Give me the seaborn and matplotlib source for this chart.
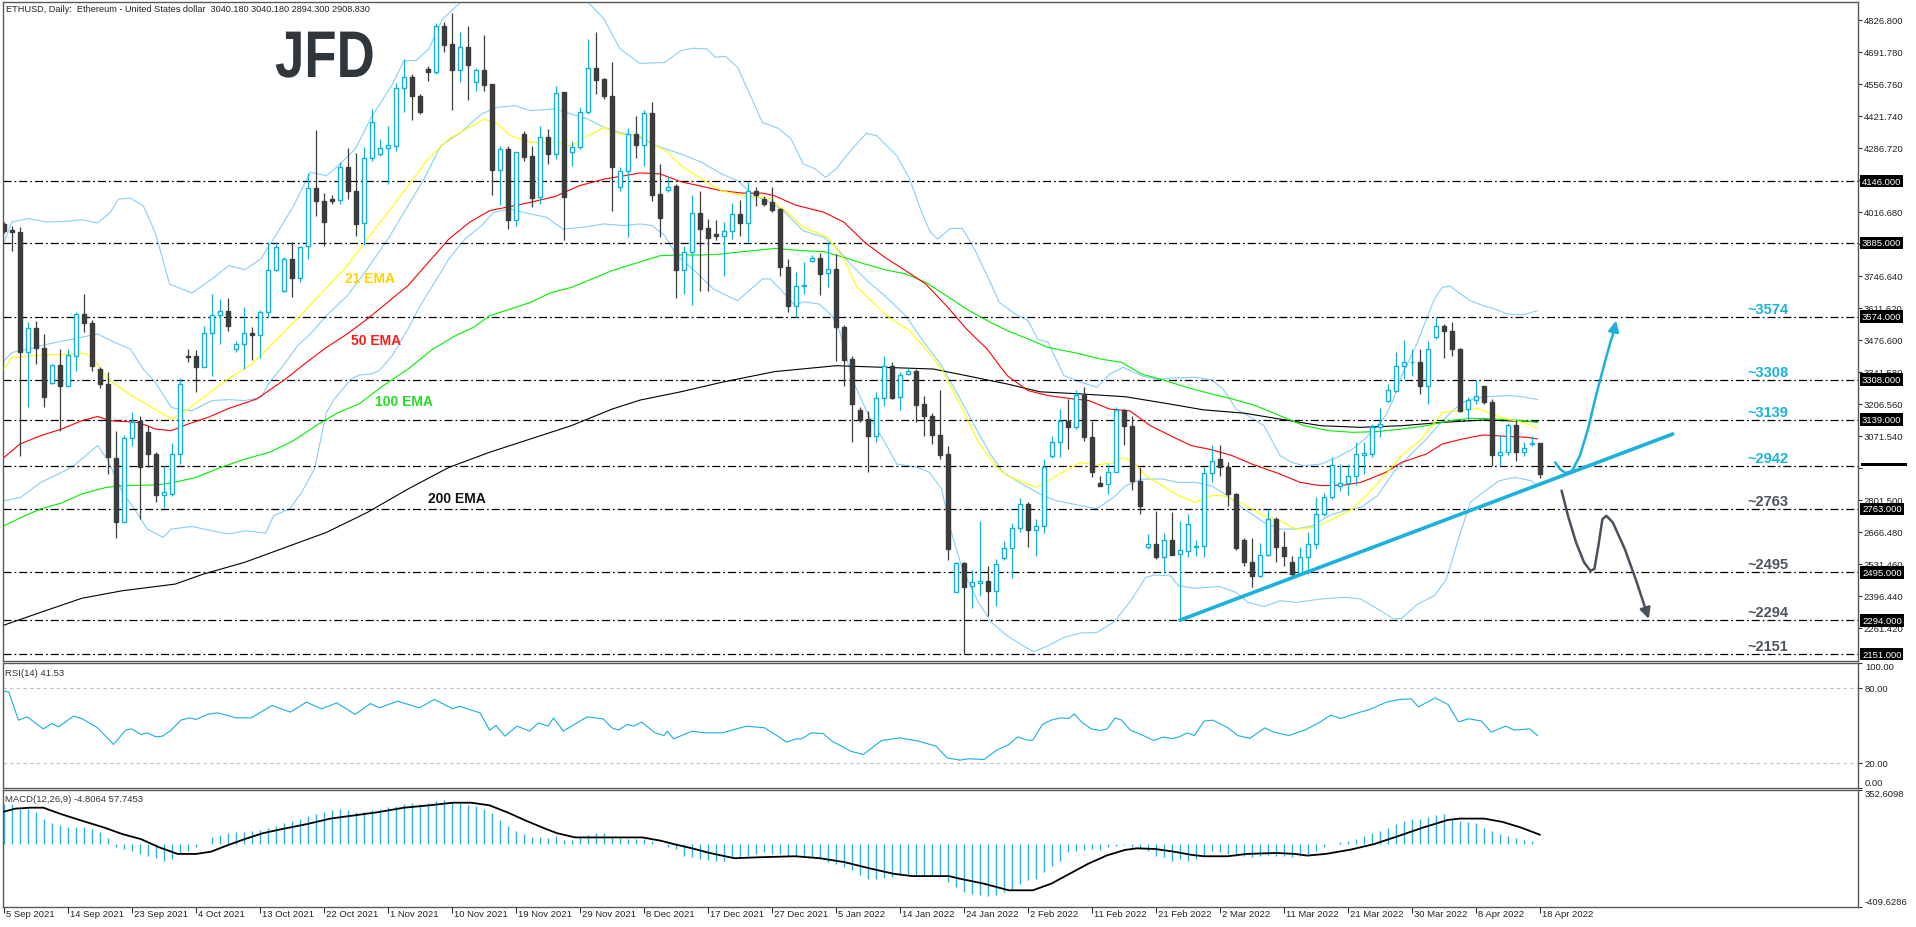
import numpy as np
import pandas as pd
import matplotlib
matplotlib.use("Agg")
import matplotlib.pyplot as plt
import matplotlib.transforms as mtrans
from matplotlib.textpath import TextPath
from matplotlib.patches import PathPatch, Rectangle
from matplotlib.font_manager import FontProperties
import seaborn as sns

# ---------------- data ----------------
open_ = [3965, 3939, 3932, 3426, 3525, 3440, 3294, 3370, 3280, 3409,
         3585, 3547, 3353, 3290, 2976, 2709, 3061, 3135, 3086, 2994,
         2823, 2826, 2994, 3410, 3410, 3363, 3503, 3581, 3596, 3437,
         3458, 3506, 3495, 3592, 3772, 3680, 3817, 3735, 3870, 4115,
         4060, 4070, 4067, 4206, 4105, 3967, 4242, 4260, 4284, 4295,
         4537, 4583, 4506, 4618, 4604, 4798, 4724, 4616, 4710, 4562,
         4616, 4555, 4194, 4281, 3983, 4344, 4253, 4077, 4330, 4260,
         4520, 4267, 4288, 4436, 4621, 4576, 4503, 4119, 4190, 4344,
         4299, 4431, 4091, 4108, 4123, 3772, 3848, 4010, 3946, 3922,
         3913, 3937, 4007, 3967, 4102, 4070, 4056, 4028, 3782, 3617,
         3702, 3809, 3820, 3756, 3775, 3529, 3395, 3180, 3142, 3072,
         3229, 3364, 3233, 3332, 3346, 3205, 3156, 3075, 2995, 2414,
         2533, 2436, 2450, 2457, 2418, 2555, 2597, 2681, 2784, 2675,
         2689, 2988, 3047, 3135, 3110, 3243, 3065, 2871, 2868, 2920,
         3180, 3114, 2882, 2601, 2615, 2559, 2632, 2573, 2587, 2601,
         2608, 2913, 2973, 2938, 2826, 2632, 2540, 2481, 2569, 2720,
         2601, 2538, 2491, 2562, 2615, 2742, 2812, 2861, 2871, 2903,
         2992, 2995, 3107, 3220, 3262, 3367, 3381, 3381, 3283, 3487,
         3536, 3515, 3437, 3184, 3224, 3280, 3215, 2990, 3004, 3117,
         3004, 3036, 3040.18]
high = [3975, 3958, 3950, 3553, 3557, 3500, 3376, 3437, 3437, 3592,
        3670, 3560, 3360, 3339, 3093, 3075, 3170, 3153, 3114, 3001,
        2945, 3041, 3314, 3437, 3435, 3535, 3670, 3648, 3653, 3473,
        3613, 3530, 3600, 3890, 3890, 3824, 3887, 3873, 4180, 4361,
        4095, 4088, 4227, 4284, 4264, 4288, 4450, 4323, 4377, 4559,
        4660, 4597, 4513, 4632, 4812, 4815, 4855, 4773, 4798, 4621,
        4762, 4555, 4295, 4295, 4267, 4358, 4295, 4379, 4365, 4545,
        4523, 4316, 4457, 4745, 4773, 4579, 4649, 4204, 4368, 4422,
        4445, 4478, 4218, 4161, 4133, 3873, 4087, 4102, 3986, 3983,
        3972, 4053, 4066, 4143, 4122, 4084, 4119, 4031, 3817, 3761,
        3803, 3834, 3842, 3887, 3838, 3540, 3409, 3191, 3177, 3255,
        3407, 3381, 3339, 3356, 3353, 3241, 3167, 3264, 3030, 2538,
        2538, 2507, 2711, 2521, 2552, 2629, 2704, 2808, 2794, 2720,
        2973, 3069, 3184, 3227, 3264, 3276, 3135, 2903, 2952, 3191,
        3184, 3156, 2938, 2657, 2756, 2661, 2751, 2713, 2741, 2633,
        2941, 3032, 3034, 2962, 2829, 2639, 2639, 2618, 2763, 2730,
        2671, 2566, 2601, 2664, 2812, 2830, 2983, 2952, 2952, 3044,
        3044, 3121, 3187, 3290, 3426, 3477, 3437, 3437, 3473, 3571,
        3543, 3550, 3440, 3234, 3307, 3283, 3227, 3075, 3124, 3138,
        3047, 3069, 3040.18]
low = [3925, 3852, 2988, 3191, 3374, 3191, 3290, 3093, 3280, 3346,
       3508, 3346, 3272, 2910, 2639, 2706, 3030, 2720, 2938, 2794,
       2765, 2819, 2952, 3381, 3257, 3360, 3325, 3459, 3515, 3423,
       3353, 3392, 3398, 3571, 3768, 3676, 3658, 3719, 3817, 3997,
       3873, 4049, 4049, 4070, 3915, 3876, 4232, 4253, 4133, 4274,
       4436, 4405, 4429, 4569, 4597, 4689, 4447, 4565, 4489, 4527,
       4527, 4087, 4045, 3944, 3958, 4232, 4035, 4049, 4218, 4239,
       3898, 4211, 4281, 4429, 4513, 4492, 4021, 4105, 3908, 4242,
       4211, 4063, 3911, 4101, 3651, 3669, 3624, 3683, 3683, 3899,
       3744, 3901, 3915, 3883, 4039, 4039, 4017, 3747, 3592, 3571,
       3669, 3803, 3665, 3698, 3388, 3280, 3044, 3131, 2917, 3044,
       3196, 3227, 3182, 3328, 3131, 3072, 3037, 2973, 2547, 2411,
       2151, 2344, 2394, 2310, 2352, 2549, 2470, 2664, 2601, 2566,
       2661, 2976, 2983, 3016, 3100, 3051, 2896, 2858, 2826, 2917,
       3033, 2843, 2742, 2594, 2552, 2491, 2569, 2294, 2562, 2566,
       2562, 2875, 2903, 2777, 2591, 2524, 2435, 2474, 2566, 2538,
       2524, 2474, 2484, 2488, 2594, 2734, 2805, 2840, 2823, 2864,
       2910, 2983, 3065, 3213, 3255, 3311, 3325, 3248, 3205, 3480,
       3398, 3409, 3170, 3142, 3205, 3205, 2942, 2942, 2990, 2966,
       2988, 3030, 2894.30]
close = [3937, 3929, 3426, 3525, 3440, 3236, 3370, 3280, 3412, 3585,
         3547, 3367, 3290, 2980, 2709, 3061, 3131, 2938, 2994, 2823,
         2833, 2994, 3290, 3405, 3363, 3505, 3581, 3599, 3536, 3458,
         3503, 3495, 3592, 3772, 3869, 3817, 3735, 3866, 4115, 4060,
         3972, 4060, 4206, 4105, 3965, 4242, 4396, 4284, 4298, 4537,
         4583, 4506, 4436, 4604, 4798, 4720, 4616, 4710, 4635, 4616,
         4551, 4194, 4281, 3983, 4267, 4246, 4073, 4330, 4260, 4516,
         4077, 4288, 4436, 4621, 4573, 4503, 4204, 4190, 4344, 4299,
         4431, 4087, 3990, 4122, 3772, 3848, 4010, 3943, 3904, 3913,
         3937, 4007, 3967, 4102, 4088, 4049, 4025, 3782, 3617, 3702,
         3709, 3820, 3754, 3775, 3529, 3392, 3205, 3138, 3072, 3229,
         3364, 3229, 3328, 3346, 3201, 3153, 3075, 2990, 2594, 2533,
         2435, 2453, 2457, 2418, 2531, 2597, 2681, 2784, 2675, 2689,
         2938, 3047, 3132, 3110, 3243, 3065, 2920, 2861, 2920, 3180,
         3114, 2882, 2774, 2615, 2559, 2632, 2569, 2590, 2699, 2608,
         2913, 2966, 2938, 2826, 2597, 2540, 2481, 2569, 2720, 2601,
         2566, 2488, 2562, 2615, 2742, 2812, 2948, 2871, 2903, 2995,
         2997, 3107, 3121, 3265, 3367, 3381, 3384, 3280, 3437, 3536,
         3515, 3437, 3177, 3224, 3241, 3215, 2990, 3004, 3117, 3004,
         3018, 3040, 2908.83]

ema21_x = [0, 1, 5, 8, 10, 11, 13, 16, 18, 21, 23, 28, 31, 35, 37.8, 42.9, 45.4, 48, 50.5, 53, 55.6, 60,
           61.7, 63.3, 65.8, 69.4, 70.9, 73, 75, 77, 79.5, 81.5, 83, 84.6, 87.2, 89.7, 92.3, 94.8, 95.8,
           97.9, 99.9, 103, 105, 106.5, 108.6, 110.6, 113.2, 115.2, 117.2, 119.8, 121.8, 123.9, 125.4,
           127.4, 129, 130.5, 133, 134.6, 136.6, 138.7, 139.9, 141.2, 142.7, 144.8, 146.8, 148.9, 150.9,
           152.4, 154.5, 157.5, 159.5, 161.5, 163.6, 165.6, 168.6, 172.2, 174.7, 177.2, 179.8, 181.8,
           184.3, 185.9, 187.9, 189.9, 191.7]
ema21_y = [3353, 3402, 3412, 3415, 3420, 3405, 3310, 3240, 3200, 3142, 3184, 3311, 3374, 3508, 3606, 3789,
           3901, 4014, 4126, 4239, 4323, 4407, 4386, 4337, 4309, 4309, 4295, 4337, 4372, 4344, 4337, 4295,
           4267, 4211, 4154, 4105, 4084, 4077, 4070, 4014, 3951, 3908, 3817, 3704, 3634, 3571, 3515, 3437,
           3353, 3184, 3044, 2945, 2903, 2875, 2854, 2882, 2931, 2959, 2948, 2959, 2980, 2959, 2903, 2861,
           2819, 2791, 2819, 2819, 2791, 2734, 2713, 2678, 2685, 2713, 2763, 2889, 2988, 3058, 3170, 3177,
           3187, 3163, 3142, 3128, 3103]

ema50_x = [0, 2, 4.6, 7.2, 9.7, 11.7, 13.3, 16.8, 18.9, 20.9, 23, 25.5, 28.1, 31.6, 35.2, 37.8, 40.3, 42.9,
           45.4, 50.5, 55.6, 58.2, 60.7, 63.8, 65.8, 68.9, 71.9, 75, 78, 79.5, 82, 84.6, 89.7, 92.3, 94.8,
           96.3, 98.9, 102.5, 105, 107.6, 110.1, 112.7, 115.2, 117.8, 120.3, 122.9, 125.4, 128, 130.5,
           133.6, 135.6, 138.2, 140.7, 143.3, 145.8, 148.4, 150.9, 153.5, 156, 159.5, 162, 164.6, 167.6,
           169.6, 172.7, 174.7, 177.8, 179.8, 182.3, 184.9, 187.9, 190.4, 191.7]
ema50_y = [2980, 3037, 3072, 3100, 3135, 3153, 3135, 3128, 3100, 3093, 3121, 3149, 3187, 3227, 3311, 3381,
           3444, 3501, 3564, 3705, 3901, 3972, 4021, 4042, 4056, 4081, 4126, 4154, 4171, 4180, 4176, 4143,
           4105, 4095, 4095, 4084, 4045, 4014, 3972, 3887, 3824, 3768, 3712, 3620, 3522, 3437, 3325, 3262,
           3241, 3227, 3220, 3184, 3177, 3114, 3072, 3030, 3013, 2988, 2952, 2910, 2875, 2861, 2864, 2875,
           2917, 2959, 2995, 3037, 3058, 3075, 3069, 3065, 3058]

ema100_x = [0, 2.6, 4.6, 7.2, 9.7, 12.8, 14.8, 18.9, 20.9, 24, 27.1, 30.1, 33.2, 36.2, 39.3, 41.8, 44.4,
            47.4, 50.5, 53.6, 56.5, 58.7, 60.7, 63.3, 65.8, 68.4, 70.9, 73.5, 76, 79.5, 82, 84.6, 87.2,
            89.7, 92.3, 94.8, 96.3, 99.9, 102.5, 105, 107.6, 110.1, 112.7, 115.2, 117.8, 120.3, 122.9,
            125.4, 128, 130.5, 134.1, 137.1, 139.7, 142.2, 144.8, 147.8, 150.9, 153.5, 156.5, 159.5,
            162.5, 165.6, 168.6, 171.7, 174.7, 177.8, 180.8, 183.3, 184.9, 187.9, 189.9, 191.7]
ema100_y = [2692, 2734, 2763, 2788, 2826, 2854, 2861, 2864, 2872, 2896, 2938, 2973, 3002, 3051, 3121, 3170,
            3206, 3283, 3353, 3437, 3495, 3529, 3578, 3606, 3634, 3676, 3697, 3733, 3768, 3805, 3831, 3834,
            3834, 3838, 3848, 3856, 3862, 3852, 3848, 3824, 3796, 3772, 3754, 3719, 3662, 3606, 3557, 3515,
            3480, 3444, 3420, 3395, 3381, 3332, 3308, 3276, 3248, 3227, 3198, 3156, 3114, 3093, 3086, 3089,
            3100, 3114, 3135, 3145, 3145, 3139, 3135, 3128]

ema200_x = [0, 4.6, 9.7, 14.8, 21.4, 25, 30.1, 35.2, 40.3, 45.4, 50.5, 55.6, 60.7, 65.8, 70.9, 76, 79.5,
            84.6, 89.7, 96.3, 104, 110.1, 116.2, 120.3, 125.4, 129.5, 134.6, 140.2, 145.8, 149.9, 155,
            159.5, 164.6, 169.6, 174.7, 179.8, 184.9, 191.7]
ema200_y = [2273, 2327, 2386, 2418, 2446, 2489, 2538, 2601, 2664, 2748, 2847, 2938, 3002, 3058, 3114, 3184,
            3222, 3257, 3297, 3342, 3367, 3360, 3353, 3325, 3290, 3257, 3248, 3236, 3205, 3181, 3167, 3142,
            3114, 3107, 3114, 3128, 3138, 3131]

bb_up_x = [0, 1, 3.1, 5.1, 7.2, 9.7, 11.7, 13.3, 14.3, 15.8, 17.4, 18.9, 20.7, 23.5, 26, 28.1, 30.1, 32.1,
           34.2, 36.2, 38.3, 40.3, 41.8, 43.9, 45.9, 48.5, 50, 51.5, 53.1, 54.8, 57.1, 60.7, 65.8, 73, 75,
           77, 79.5, 82.6, 84.6, 86.1, 87.9, 88.9, 90.2, 91.7, 93.3, 94.8, 96.8, 98.4, 99.9, 101.4, 102.7,
           104, 106, 107.8, 109.1, 111.6, 113.2, 114.7, 115.7, 116.7, 118.3, 119.8, 121.3, 122.9, 124.4,
           126.4, 128, 129.2, 130.5, 132.5, 134.6, 136.6, 138.2, 139.9, 142.2, 144.3, 145.8, 148.9, 150.9,
           152.4, 154, 155.5, 157.5, 159.5, 161, 162.5, 164.6, 166.6, 168.6, 170.1, 171.7, 172.7, 173.7,
           174.7, 175.7, 176.7, 177.8, 178.8, 179.8, 180.8, 181.8, 183.3, 184.9, 186.4, 187.9, 189.9, 191.7]
bb_up_y = [3887, 3974, 3988, 3974, 3974, 3983, 3969, 4014, 4070, 4073, 4042, 3929, 3711, 3674, 3733, 3789,
           3772, 3817, 3929, 4042, 4183, 4168, 4211, 4281, 4414, 4551, 4654, 4654, 4703, 4829, 4900, 4907,
           4900, 4900, 4829, 4703, 4642, 4646, 4696, 4706, 4703, 4668, 4672, 4625, 4506, 4393, 4368, 4323,
           4218, 4197, 4161, 4197, 4281, 4347, 4337, 4253, 4154, 4014, 3936, 3901, 3946, 3946, 3859, 3747,
           3634, 3585, 3557, 3480, 3466, 3325, 3297, 3276, 3332, 3360, 3325, 3308, 3315, 3318, 3308, 3269,
           3184, 3156, 3114, 2988, 2959, 2945, 2952, 2980, 3016, 3058, 3114, 3156, 3227, 3325, 3395, 3466,
           3564, 3648, 3698, 3702, 3676, 3641, 3620, 3606, 3585, 3582, 3599]

bb_mid_x = [0, 1, 3.1, 4.6, 6.6, 8.7, 11.7, 13.8, 15.8, 17.4, 18.9, 20.9, 21.9, 23.5, 26, 28.1, 30.1, 32.1,
            33.2, 35.2, 36.7, 38.3, 40.3, 42.9, 45.4, 48, 50.5, 52.5, 54.6, 57.1, 59.7, 61.7, 63.8, 65.8,
            68.9, 70.9, 73, 75, 77, 79.5, 81.5, 84.6, 87.2, 89.7, 91.7, 93.8, 95.8, 97.4, 99.9, 102.5, 104,
            106, 108.1, 110.1, 112.7, 114.7, 117.2, 119.3, 121.3, 123.4, 124.9, 126.9, 129.5, 131.5, 134.6,
            136.6, 138.7, 140.2, 142.2, 144.8, 146.8, 148.9, 150.9, 152.9, 155, 157.5, 159.5, 161.5, 163.6,
            165.6, 167.6, 169.6, 171.7, 173.7, 175.7, 177.8, 179.8, 181.3, 182.8, 184.9, 187.9, 189.9, 191.7]
bb_mid_y = [3388, 3423, 3437, 3452, 3466, 3480, 3501, 3466, 3437, 3353, 3297, 3191, 3184, 3177, 3220, 3224,
            3220, 3234, 3297, 3381, 3452, 3501, 3578, 3662, 3775, 3901, 4042, 4154, 4295, 4351, 4429, 4457,
            4464, 4443, 4450, 4429, 4407, 4372, 4351, 4330, 4295, 4260, 4225, 4176, 4147, 4084, 4056, 4021,
            3936, 3908, 3866, 3789, 3719, 3662, 3578, 3480, 3367, 3241, 3114, 2988, 2917, 2875, 2826, 2798,
            2777, 2763, 2812, 2861, 2889, 2889, 2875, 2875, 2861, 2819, 2763, 2706, 2678, 2678, 2692, 2734,
            2756, 2770, 2819, 2917, 2988, 3058, 3135, 3184, 3220, 3236, 3241, 3236, 3224]

bb_lo_x = [0, 2.1, 4.6, 7.2, 8.7, 11.7, 13, 14.8, 16.3, 17.9, 19.9, 20.9, 23.5, 26, 28.1, 30.1, 32.7, 33.7,
           35.7, 37.2, 38.8, 40.3, 41.3, 43.4, 44.4, 45.9, 46.9, 48.5, 50.5, 52, 54.1, 55.6, 57.6, 59.7,
           61.2, 63.3, 65.8, 67.8, 69.9, 72.4, 75, 77.5, 79.5, 81, 82.6, 84.1, 86.1, 88.7, 91.7, 94.8,
           95.8, 97.4, 98.9, 99.9, 101.9, 103.5, 104.5, 106, 108.1, 110.1, 111.6, 114.2, 115.7, 117.2,
           118.3, 119.8, 121.8, 123.4, 125.4, 127.4, 128.7, 130.5, 132.5, 134.6, 136.6, 138.7, 140.7,
           142.7, 143.8, 145.8, 146.8, 148.9, 151.9, 154, 155.5, 157.5, 159.5, 161.5, 164.6, 167.6, 169.6,
           171.7, 173.7, 174.7, 176.7, 178.8, 180.3, 181.8, 183.3, 184.9, 186.9, 188.9, 190.9, 191.7]
bb_lo_y = [2798, 2812, 2875, 2917, 2945, 3030, 2966, 2833, 2763, 2678, 2643, 2678, 2689, 2671, 2657, 2671,
           2661, 2734, 2763, 2833, 2931, 3170, 3227, 3311, 3328, 3332, 3346, 3409, 3522, 3620, 3733, 3817,
           3901, 3958, 4014, 4028, 4007, 3993, 3943, 3951, 3965, 3958, 3965, 3958, 3915, 3831, 3775, 3690,
           3641, 3733, 3733, 3676, 3620, 3637, 3627, 3578, 3508, 3311, 3156, 3044, 2952, 2938, 2917, 2847,
           2678, 2509, 2369, 2285, 2228, 2186, 2161, 2186, 2221, 2240, 2242, 2285, 2369, 2474, 2484, 2481,
           2439, 2428, 2436, 2411, 2369, 2351, 2376, 2369, 2383, 2390, 2383, 2341, 2299, 2301, 2362, 2397,
           2467, 2636, 2791, 2833, 2882, 2896, 2882, 2861]

levels = [4146, 3885, 3574, 3308, 3139, 2942, 2763, 2495, 2294, 2151]
cyan_levels = [3574, 3308, 3139, 2942]
gray_levels = [2763, 2495, 2294, 2151]
price_ticks = [4826.800, 4691.780, 4556.760, 4421.740, 4286.720, 4151.700, 4016.680, 3881.660,
               3746.640, 3611.620, 3476.600, 3341.580, 3206.560, 3071.540, 2936.520, 2801.500,
               2666.480, 2531.460, 2396.440, 2261.420]

trend_x = [147, 208.6]
trend_y = [2294, 3079]
up_arrow_x = [193.9, 194.5, 195.2, 196.0, 197.0, 198.0, 199.0, 200.1, 200.8, 201.2, 201.5]
up_arrow_y = [2959, 2931, 2914, 2924, 2988, 3100, 3241, 3381, 3466, 3508, 3557]
dn_arrow_x = [194.7, 195.5, 196.5, 197.5, 198.3, 198.8, 199.3, 199.8, 200.3, 201.1, 202.6, 204.1, 205.6]
dn_arrow_y = [2840, 2734, 2622, 2538, 2502, 2510, 2608, 2720, 2734, 2706, 2594, 2453, 2299]

rsi_x = [0, 0.6, 1.8, 2.9, 4.9, 6.0, 6.8, 8.7, 9.8, 11.7, 13.7, 15.2, 16.0, 17.1, 17.9, 19.0, 19.8, 20.9,
         22.1, 23.2, 24.0, 25.5, 26.7, 29.0, 30.9, 33.5, 35.8, 37.8, 39.7, 41.6, 43.9, 45.8, 46.9, 49.2,
         51.9, 53.8, 56.1, 56.9, 59.5, 60.7, 61.5, 62.6, 64.1, 65.7, 66.8, 68.0, 68.7, 69.9, 72.9, 74.9,
         76.0, 76.8, 77.9, 78.7, 79.7, 81.4, 82.5, 82.9, 83.7, 86.0, 87.5, 89.8, 92.8, 95.1, 96.7, 97.8,
         99.0, 99.7, 100.9, 102.4, 103.5, 105.8, 107.4, 109.7, 112.0, 114.3, 116.5, 117.9, 119.5, 120.6,
         122.5, 124.1, 125.6, 126.7, 127.9, 128.6, 129.8, 130.9, 132.1, 133.1, 133.8, 134.7, 135.9, 137.0,
         137.9, 138.9, 139.7, 140.8, 142.4, 143.7, 144.9, 146.0, 146.9, 147.9, 148.8, 150.0, 151.1, 153.0,
         154.2, 155.7, 157.6, 158.7, 160.6, 162.6, 164.5, 165.8, 167.1, 169.0, 170.9, 172.8, 174.4, 175.9,
         176.8, 178.9, 180.5, 181.8, 183.1, 184.7, 185.9, 187.7, 188.8, 190.7, 191.7]
rsi_y = [77.1, 76.3, 53.9, 56.5, 46.9, 51.2, 48.5, 57.1, 54.9, 47.7, 34.4, 45.9, 46.9, 42.4, 43.7, 40.5, 41.1,
         45.9, 53.9, 55.7, 54.4, 58.7, 59.7, 55.7, 55.7, 65.6, 60.3, 68.3, 62.9, 67.7, 58.4, 67.2, 63.7,
         69.1, 63.7, 70.4, 62.9, 65.1, 59.7, 45.9, 49.6, 41.1, 49.1, 45.1, 51.7, 49.1, 55.7, 45.1, 56.5,
         54.9, 47.7, 45.9, 50.4, 49.1, 52.3, 43.7, 41.6, 45.1, 38.9, 45.1, 43.7, 43.7, 49.1, 47.7, 41.1,
         36.3, 38.9, 38.9, 43.7, 43.2, 37.1, 29.1, 26.4, 37.6, 39.7, 37.1, 33.1, 23.7, 21.9, 23.0, 22.4,
         29.9, 34.4, 40.5, 37.9, 37.9, 50.4, 53.9, 55.7, 55.2, 58.9, 52.3, 46.9, 45.6, 46.9, 55.7, 53.9,
         45.9, 41.6, 37.6, 40.3, 39.2, 40.5, 43.7, 41.6, 53.1, 53.9, 47.7, 41.6, 39.2, 47.7, 44.3, 41.6,
         45.9, 52.3, 57.9, 55.2, 59.2, 62.9, 68.3, 70.4, 70.9, 64.5, 71.7, 66.4, 52.5, 55.0, 53.1, 44.3,
         49.1, 45.9, 46.9, 41.53]

macd_hist = [256, 256, 228, 228, 206, 163, 137, 120, 109, 109,
             109, 94, 73, 34, -24, -35, -46, -67, -78, -95,
             -110, -100, -61, -46, -24, 0, 40, 55, 68, 73,
             77, 84, 90, 105, 116, 137, 148, 163, 180, 191,
             206, 219, 223, 219, 206, 206, 219, 228, 239, 245,
             256, 262, 256, 262, 277, 282, 271, 262, 249, 245,
             223, 197, 155, 116, 84, 62, 45, 40, 38, 51,
             23, 23, 51, 55, 66, 68, 51, 34, 30, 30,
             30, 19, -3, -24, -35, -78, -89, -100, -106, -110,
             -110, -95, -89, -78, -67, -57, -67, -67, -78, -78,
             -89, -89, -100, -117, -132, -153, -175, -207, -229, -229,
             -225, -218, -207, -196, -207, -207, -207, -218, -250, -283,
             -315, -326, -332, -341, -336, -315, -294, -261, -240, -229,
             -186, -143, -110, -57, -46, -39, -35, -39, -24, -13,
             -9, -24, -35, -46, -78, -89, -110, -100, -110, -100,
             -78, -46, -57, -67, -78, -78, -89, -78, -74, -78,
             -78, -89, -78, -67, -46, -24, -3, 8, 19, 30,
             47, 68, 84, 105, 127, 148, 159, 159, 176, 185,
             191, 159, 148, 142, 133, 105, 84, 62, 51, 34,
             25, 19, -4.8064]
macd_sig_x = [0, 1.4, 3.3, 4.9, 7.2, 10.2, 12.5, 14.8, 17.1, 19.4, 21.7, 24.0, 25.9, 27.8, 30.1, 32.4,
              34.7, 37.8, 40.8, 43.9, 46.9, 50.0, 53.1, 56.1, 58.4, 60.7, 63.0, 65.3, 67.6, 69.1, 71.4,
              76.0, 79.8, 82.1, 83.7, 86.0, 88.2, 91.3, 94.4, 98.9, 102.0, 105.1, 108.1, 111.2, 113.5,
              118.1, 119.5, 122.5, 125.6, 128.6, 130.9, 133.2, 135.5, 137.8, 140.1, 141.6, 143.9, 146.2,
              148.5, 150.0, 153.0, 155.3, 159.1, 161.4, 162.9, 165.2, 168.3, 171.3, 174.4, 177.4, 180.5,
              182.0, 185.0, 187.3, 189.6, 192.0]
macd_sig_y = [208.4, 227.8, 234.2, 234.2, 191.2, 141.6, 105.0, 62.0, 29.7, -24.2, -67.2, -67.2, -52.2,
              -13.4, 29.7, 68.4, 94.3, 126.6, 163.1, 184.7, 206.2, 234.2, 249.3, 266.5, 266.5, 249.3,
              201.9, 148.1, 98.6, 68.4, 40.4, 40.4, 40.4, 18.9, -2.6, -30.6, -60.8, -95.2, -88.8, -82.3,
              -95.2, -121.1, -159.9, -196.4, -211.5, -211.5, -228.7, -261.0, -304.1, -304.1, -261.0,
              -196.4, -131.8, -78.0, -41.4, -30.6, -35.0, -52.2, -73.7, -82.3, -82.3, -67.2, -60.8, -67.2,
              -78.0, -67.2, -39.3, -2.6, 51.2, 105.0, 154.5, 163.1, 163.1, 141.6, 105.0, 57.7453]

date_labels = ["5 Sep 2021", "14 Sep 2021", "23 Sep 2021", "4 Oct 2021", "13 Oct 2021", "22 Oct 2021",
               "1 Nov 2021", "10 Nov 2021", "19 Nov 2021", "29 Nov 2021", "8 Dec 2021", "17 Dec 2021",
               "27 Dec 2021", "5 Jan 2022", "14 Jan 2022", "24 Jan 2022", "2 Feb 2022", "11 Feb 2022",
               "21 Feb 2022", "2 Mar 2022", "11 Mar 2022", "21 Mar 2022", "30 Mar 2022", "8 Apr 2022",
               "18 Apr 2022"]

# ---------------- styling ----------------
sns.set_theme(style="white")
plt.rcParams["font.family"] = ["Liberation Sans", "DejaVu Sans"]
SMALL = ["Liberation Sans", "DejaVu Sans"]
FS = 6.8
UP = "#14b0dc"
DN = "#3c3c3c"
BB = "#87cefa"
FRAME = "#5a5a5a"

W, H, DPI = 1916, 928, 100
fig = plt.figure(figsize=(W / DPI, H / DPI), dpi=DPI, facecolor="white")


def px_axes(x0, y0, x1, y1):
    return fig.add_axes([x0 / W, 1 - y1 / H, (x1 - x0) / W, (y1 - y0) / H])


ax = px_axes(2.5, 2.5, 1858, 661.5)
ax_rsi = px_axes(2.5, 663.5, 1858, 788.5)
ax_macd = px_axes(2.5, 790.5, 1858, 907.5)

XLIM = (-0.19, 231.75)
for a in (ax, ax_rsi, ax_macd):
    a.set_xlim(*XLIM)
    a.set_facecolor("white")
    for s in a.spines.values():
        s.set_color(FRAME)
        s.set_linewidth(1.0)
    a.tick_params(axis="x", bottom=False, labelbottom=False)
ax.set_ylim(2123.7, 4903.1)
ax_rsi.set_ylim(0, 100)
ax_macd.set_ylim(-409.6286, 352.6098)


def line(a, xs, ys, color, lw=0.8, z=3):
    sns.lineplot(x=xs, y=ys, ax=a, color=color, linewidth=lw, zorder=z,
                 errorbar=None, sort=False, legend=False)


# Bollinger bands and EMAs
for xs, ys in ((bb_up_x, bb_up_y), (bb_mid_x, bb_mid_y), (bb_lo_x, bb_lo_y)):
    line(ax, xs, ys, BB, lw=0.8, z=2)
line(ax, ema200_x, ema200_y, "#000000", z=3)
line(ax, ema100_x, ema100_y, "#00ee00", z=3)
line(ax, ema50_x, ema50_y, "#ff0000", z=3)
line(ax, ema21_x, ema21_y, "#ffff00", z=3)

# horizontal levels
for lvl in levels:
    ax.axhline(lvl, color="black", lw=0.9, ls=(0, (6.4, 2.4, 1.4, 2.4)), zorder=2.5)

# candles
df = pd.DataFrame({"bar": np.arange(len(open_)), "open": open_, "high": high,
                   "low": low, "close": close})
is_up = (df["close"] >= df["open"]).to_numpy()
edge = np.where(is_up, UP, DN)
fill = np.where(is_up, "white", DN)
ax.vlines(df["bar"], df["low"], df["high"], colors=edge, lw=0.9, zorder=4)
body_lo = np.minimum(df["open"], df["close"])
body_h = np.maximum(np.abs(df["close"] - df["open"]), 3.0)
ax.bar(df["bar"], body_h, bottom=body_lo, width=0.5, color=fill, edgecolor=edge,
       linewidth=1.0, zorder=5)

# trend line and projection arrows
line(ax, trend_x, trend_y, "#1ab2dd", lw=2.6, z=6)
line(ax, up_arrow_x[:-1], up_arrow_y[:-1], "#1ab2dd", lw=1.8, z=6)
ax.annotate("", xy=(up_arrow_x[-1], up_arrow_y[-1]), xytext=(up_arrow_x[-2], up_arrow_y[-2]),
            arrowprops=dict(arrowstyle="-|>", color="#1ab2dd", lw=1.8, mutation_scale=16,
                            shrinkA=0, shrinkB=0), zorder=6)
line(ax, dn_arrow_x[:-1], dn_arrow_y[:-1], "#47525c", lw=1.8, z=6)
ax.annotate("", xy=(dn_arrow_x[-1], dn_arrow_y[-1]), xytext=(dn_arrow_x[-2], dn_arrow_y[-2]),
            arrowprops=dict(arrowstyle="-|>", color="#47525c", lw=1.8, mutation_scale=16,
                            shrinkA=0, shrinkB=0), zorder=6)

# EMA labels
lab_kw = dict(fontsize=10, fontweight="bold", ha="center", va="center", zorder=7,
              family=["Liberation Sans", "DejaVu Sans"])
ax.text(45.75, 3737, "21 EMA", color="#ffd200", **lab_kw)
ax.text(46.5, 3475, "50 EMA", color="#ff1a1a", **lab_kw)
ax.text(50.0, 3218, "100 EMA", color="#22dd22", **lab_kw)
ax.text(56.6, 2809, "200 EMA", color="#111111", **lab_kw)

# level labels on the right
lbl_off = mtrans.ScaledTranslation(0, 8 / DPI, fig.dpi_scale_trans)
for lvl in levels[2:]:
    col = "#1ab2dd" if lvl in cyan_levels else "#4a545e"
    ax.text(220.5, lvl, f"~{lvl}", color=col, fontsize=10.5, fontweight="bold", ha="center",
            va="center", transform=ax.transData + lbl_off,
            family=["Liberation Sans", "DejaVu Sans"], zorder=7)

# right price axis
ax.yaxis.tick_right()
ax.set_yticks(price_ticks)
ax.set_yticklabels(["" if t in (2936.520,) else f"{t:.3f}" for t in price_ticks])
ax.tick_params(axis="y", which="both", direction="out", length=3, width=0.8, pad=1,
               labelsize=FS, colors="#333333", labelcolor="#222222")
for t in ax.get_yticklabels():
    t.set_family(SMALL)

blend = mtrans.blended_transform_factory(ax.transAxes, ax.transData)
box_tr = blend + mtrans.ScaledTranslation(4 / DPI, 0, fig.dpi_scale_trans)
for lvl in levels:
    if lvl == 2942:
        continue
    ax.text(1.0, lvl, f"{lvl:.3f}", transform=box_tr, ha="left", va="center", color="white",
            fontsize=FS, family=SMALL, clip_on=False, zorder=10,
            bbox=dict(boxstyle="square,pad=0.2", fc="black", ec="none"))
# the 2942 box is almost fully hidden in the reference: only a thin strip shows
ax.add_patch(Rectangle((1.0 + 3 / 1855.5, 2942), 46 / 1855.5, 15, transform=blend,
                       facecolor="black", edgecolor="none", clip_on=False, zorder=10))

# RSI panel
line(ax_rsi, rsi_x, rsi_y, "#1aaee0", lw=0.8, z=3)
for lv in (80, 20):
    ax_rsi.axhline(lv, color="#bdbdbd", lw=0.8, ls=(0, (3, 3)), zorder=1)
ax_rsi.yaxis.tick_right()
ax_rsi.set_yticks([100, 80, 20, 0])
ax_rsi.set_yticklabels(["100.00", "80.00", "20.00", "0.00"])
ax_rsi.tick_params(axis="y", direction="out", length=3, width=0.8, pad=2, labelsize=FS,
                   colors="#333333", labelcolor="#222222")
rl = ax_rsi.get_yticklabels()
for t in rl:
    t.set_family(SMALL)
rl[0].set_va("top")
rl[3].set_va("bottom")

# MACD panel
bars = np.arange(len(macd_hist))
ax_macd.vlines(bars, 0, macd_hist, colors="#2ab4e0", lw=1.0, zorder=2)
line(ax_macd, macd_sig_x, macd_sig_y, "#000000", lw=1.3, z=3)
ax_macd.yaxis.tick_right()
ax_macd.set_yticks([352.6098, -409.6286])
ax_macd.set_yticklabels(["352.6098", "-409.6286"])
ax_macd.tick_params(axis="y", direction="out", length=3, width=0.8, pad=2, labelsize=FS,
                    colors="#333333", labelcolor="#222222")
ml = ax_macd.get_yticklabels()
for t in ml:
    t.set_family(SMALL)
ml[0].set_va("top")
ml[1].set_va("bottom")

# date axis
ax_macd.set_xticks(np.arange(0, 8 * len(date_labels), 8))
ax_macd.set_xticklabels(date_labels)
ax_macd.tick_params(axis="x", bottom=True, labelbottom=True, direction="out", length=4,
                    width=0.8, pad=-2.2, labelsize=FS, colors="#333333", labelcolor="#222222")
shift = mtrans.ScaledTranslation(1.5 / DPI, 0, fig.dpi_scale_trans)
for t in ax_macd.get_xticklabels():
    t.set_ha("left")
    t.set_family(SMALL)
    t.set_transform(t.get_transform() + shift)

# header texts
fig.text(6 / W, 1 - 10 / H, "ETHUSD, Daily:  Ethereum - United States dollar  3040.180 3040.180 2894.300 2908.830",
         fontsize=6.6, va="center", ha="left", color="#222222", family=SMALL)
fig.text(5 / W, 1 - 673 / H, "RSI(14) 41.53", fontsize=FS, va="center", ha="left",
         color="#333333", family=SMALL)
fig.text(5 / W, 1 - 800 / H, "MACD(12,26,9) -4.8064 57.7453", fontsize=FS, va="center",
         ha="left", color="#333333", family=SMALL)

# logo (horizontally condensed bold lettering, in pixel coordinates)
logo_path = TextPath((0, 0), "JFD", size=66,
                     prop=FontProperties(family=["Liberation Sans", "DejaVu Sans"], weight="bold"))
fig.add_artist(PathPatch(logo_path, transform=mtrans.Affine2D().scale(0.8, 1.0).translate(275, H - 78),
                         facecolor="#30373c", edgecolor="none"))

fig.savefig("out.png", dpi=DPI, facecolor="white")
